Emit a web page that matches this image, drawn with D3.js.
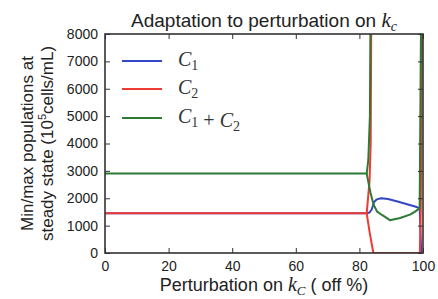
<!DOCTYPE html>
<html>
<head>
<meta charset="utf-8">
<script src="https://cdn.jsdelivr.net/npm/d3@7"></script>
<style>
  body { margin: 0; background: #fff; }
  svg { display: block; }
</style>
</head>
<body>
<svg id="chart" width="438" height="299"></svg>
<script>
// ---------- data (x = perturbation %, y = population, 10^5 cells/mL) ----------
const xTicks = [0, 20, 40, 60, 80, 100];
const yTicks = [0, 1000, 2000, 3000, 4000, 5000, 6000, 7000, 8000];

// C1 (max)
const c1X = [0, 40, 82.3, 83.2, 83.9, 84.6, 85.5, 86.8, 89, 92, 95, 97.5, 98.95, 99.2, 99.45];
const c1Y = [1450, 1450, 1450, 1480, 1600, 1860, 1960, 2000, 1970, 1880, 1780, 1700, 1640, 800, 0];

// C2 max / min
const c2MaxX = [0, 40, 82.3, 83.2, 83.55, 83.75];
const c2MaxY = [1450, 1450, 1450, 2650, 4000, 9000];
const c2MinX = [82.3, 83.3, 84.4, 99.0, 99.3, 99.7];
const c2MinY = [1450, 700, 0, 0, 1500, 9000];

// C1 + C2 max / min
const sumMaxX = [0, 40, 82.3, 82.8, 83.3, 83.5];
const sumMaxY = [2900, 2900, 2900, 3400, 5000, 9000];
const sumMinX = [82.3, 83.5, 84.5, 85.6, 87.1, 89.6, 92.8, 95.9, 97.5, 98.95, 99.35, 99.4];
const sumMinY = [2900, 2190, 1750, 1510, 1390, 1200, 1280, 1400, 1510, 1640, 8000, 9000];

const legendLabels = ["C1", "C2", "C1+C2"];
const colors = { c1: "#3346c4", c2: "#ee3b33", sum: "#2c7a35" };

// ---------- layout ----------
const svg = d3.select("#chart");
const L = 105, T = 34, R = 423, B = 253;
const x = d3.scaleLinear().domain([0, 100]).range([L, R]);
const y = d3.scaleLinear().domain([0, 8000]).range([B, T]);

svg.append("defs").append("clipPath").attr("id", "clip")
  .append("rect").attr("x", L).attr("y", T).attr("width", R - L).attr("height", B - T);

const line = d3.line().x(d => x(d[0])).y(d => y(d[1]));
const zip = (xs, ys) => xs.map((v, i) => [v, ys[i]]);

const g = svg.append("g").attr("clip-path", "url(#clip)");
const series = [
  { d: zip(c1X, c1Y), c: colors.c1 },
  { d: zip(c2MaxX, c2MaxY), c: colors.c2 },
  { d: zip(c2MinX, c2MinY), c: colors.c2 },
  { d: zip(sumMaxX, sumMaxY), c: colors.sum },
  { d: zip(sumMinX, sumMinY), c: colors.sum },
];
series.forEach(s => {
  g.append("path").datum(s.d).attr("d", line)
    .attr("fill", "none").attr("stroke", s.c).attr("stroke-width", 2)
    .attr("stroke-linejoin", "round");
});

// ---------- axes (ticks inward on all sides) ----------
const tickFont = "'Liberation Sans', Arial, sans-serif";
const axB = svg.append("g").attr("transform", `translate(0,${B})`)
  .call(d3.axisBottom(x).tickValues(xTicks).tickSize(-5).tickPadding(8).tickFormat(d3.format("d")));
const axT = svg.append("g").attr("transform", `translate(0,${T})`)
  .call(d3.axisTop(x).tickValues(xTicks).tickSize(-5).tickFormat(""));
const axL = svg.append("g").attr("transform", `translate(${L},0)`)
  .call(d3.axisLeft(y).tickValues(yTicks).tickSize(-5).tickPadding(7).tickFormat(d3.format("d")));
const axR = svg.append("g").attr("transform", `translate(${R},0)`)
  .call(d3.axisRight(y).tickValues(yTicks).tickSize(-5).tickFormat(""));
[axB, axT, axL, axR].forEach(a => {
  a.select(".domain").remove();
  a.selectAll(".tick line").attr("stroke", "#333").attr("stroke-width", 1);
  a.selectAll("text").attr("font-family", tickFont).attr("font-size", 14).attr("fill", "#222");
});
axB.selectAll("text").attr("dy", "0.71em");

svg.append("rect").attr("x", L).attr("y", T).attr("width", R - L).attr("height", B - T)
  .attr("fill", "none").attr("stroke", "#333").attr("stroke-width", 1.6);

// ---------- titles ----------
const sans = "'Liberation Sans', Arial, sans-serif";
const serif = "'Liberation Serif', 'DejaVu Serif', serif";

const title = svg.append("text").attr("x", (L + R) / 2).attr("y", 27)
  .attr("text-anchor", "middle").attr("font-family", sans).attr("font-size", 19).attr("fill", "#222");
title.append("tspan").text("Adaptation to perturbation on ");
title.append("tspan").attr("font-family", serif).attr("font-style", "italic").attr("font-size", 21).text("k");
title.append("tspan").attr("font-family", serif).attr("font-style", "italic").attr("font-size", 14).attr("dy", 4).text("c");

const xl = svg.append("text").attr("x", (L + R) / 2).attr("y", 291)
  .attr("text-anchor", "middle").attr("font-family", sans).attr("font-size", 18).attr("fill", "#222");
xl.append("tspan").text("Perturbation on ");
xl.append("tspan").attr("font-family", serif).attr("font-style", "italic").attr("font-size", 20).text("k");
xl.append("tspan").attr("font-family", serif).attr("font-style", "italic").attr("font-size", 13).attr("dy", 4).text("C");
xl.append("tspan").attr("dy", -4).text(" ( off %)");

const yl = svg.append("text").attr("transform", `translate(0,${(T + B) / 2}) rotate(-90)`)
  .attr("text-anchor", "middle").attr("font-family", sans).attr("font-size", 17).attr("fill", "#222");
yl.append("tspan").attr("x", 0).attr("y", 33).text("Min/max populations at");
const l2 = yl.append("tspan").attr("x", 0).attr("y", 53);
l2.text("steady state (10");
yl.append("tspan").attr("font-size", 11).attr("dy", -7).text("5");
yl.append("tspan").attr("dy", 7).text("cells/mL)");

// ---------- legend ----------
const legColors = [colors.c1, colors.c2, colors.sum];
const legY = [61, 89, 118];
legendLabels.forEach((lab, i) => {
  svg.append("line").attr("x1", 122).attr("x2", 162).attr("y1", legY[i]).attr("y2", legY[i])
    .attr("stroke", legColors[i]).attr("stroke-width", 2);
  const t = svg.append("text").attr("x", 178).attr("y", legY[i] + 5)
    .attr("font-family", serif).attr("font-size", 20).attr("fill", "#333");
  const parts = lab.split("+");
  parts.forEach((p, j) => {
    if (j > 0) t.append("tspan").attr("font-style", "normal").text(" + ");
    t.append("tspan").attr("font-style", "italic").text(p[0]);
    t.append("tspan").attr("font-size", 14).attr("dy", 4).text(p.slice(1));
    t.append("tspan").attr("dy", -4).text("");
  });
});
</script>
</body>
</html>
